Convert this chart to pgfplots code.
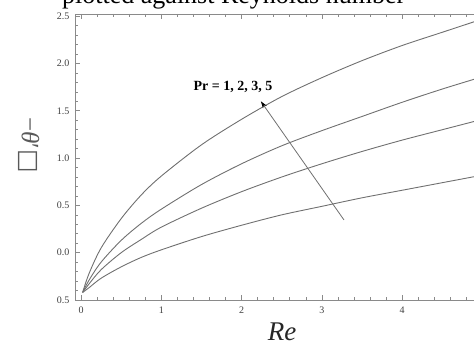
\documentclass[border=0pt]{standalone}
\usepackage{fontspec}
\setmainfont{Liberation Serif}
\newfontfamily\symfont{DejaVu Sans}
\usepackage{pgfplots}
\pgfplotsset{compat=1.18}
\usetikzlibrary{arrows.meta}

\definecolor{curve}{HTML}{707070}
\definecolor{frame}{HTML}{8A8A8A}

\begin{document}
\begin{tikzpicture}[x=1pt,y=1pt]
\begin{axis}[
  at={(75pt,44pt)}, anchor=south west,
  scale only axis, width=411.5pt, height=286pt,
  xmin=-0.075, xmax=5.05, ymin=-0.5, ymax=2.523,
  axis line style={draw=frame, line width=0.8pt},
  xtick={0,1,2,3,4,5}, xticklabels={0,1,2,3,4,{}},
  ytick={-0.5,0,0.5,1,1.5,2,2.5},
  yticklabels={0.5,0.0,0.5,1.0,1.5,2.0,2.5},
  minor x tick num=4, minor y tick num=4,
  major tick length=5pt, minor tick length=3pt,
  tick style={draw=frame, line width=0.6pt},
  tick align=inside,
  ticklabel style={font=\fontsize{10}{12}\selectfont, text=black!75},
  xticklabel style={yshift=-3pt},
  yticklabel style={xshift=-2pt},
]
% Pr = 5 (top)
\addplot[no marks, smooth, line width=0.9pt, draw=curve] coordinates {
  (0.02,-0.42) (0.1,-0.22) (0.25,0.05) (0.5,0.36) (0.75,0.61) (1,0.81)
  (1.5,1.14) (2,1.41) (2.5,1.65) (3,1.85) (3.5,2.03) (4,2.19) (4.5,2.33) (5,2.47)};
% Pr = 3
\addplot[no marks, smooth, line width=0.9pt, draw=curve] coordinates {
  (0.02,-0.42) (0.1,-0.29) (0.25,-0.10) (0.5,0.13) (0.75,0.31) (1,0.46)
  (1.5,0.72) (2,0.94) (2.5,1.13) (3,1.29) (3.5,1.44) (4,1.59) (4.5,1.73) (5,1.86)};
% Pr = 2
\addplot[no marks, smooth, line width=0.9pt, draw=curve] coordinates {
  (0.02,-0.42) (0.1,-0.33) (0.25,-0.18) (0.5,0.00) (0.75,0.14) (1,0.27)
  (1.5,0.47) (2,0.645) (2.5,0.80) (3,0.94) (3.5,1.07) (4,1.19) (4.5,1.30) (5,1.41)};
% Pr = 1
\addplot[no marks, smooth, line width=0.9pt, draw=curve] coordinates {
  (0.02,-0.42) (0.1,-0.37) (0.25,-0.27) (0.5,-0.15) (0.75,-0.05) (1,0.03)
  (1.5,0.17) (2,0.29) (2.5,0.40) (3,0.49) (3.5,0.58) (4,0.66) (4.5,0.74) (5,0.82)};

\draw[draw=curve, line width=0.8pt,
      -{Stealth[length=7pt,width=4.5pt,color=black]}]
  (axis cs:3.275,0.346) -- (axis cs:2.24,1.60);
\node[font=\bfseries\fontsize{14}{16}\selectfont, inner sep=0]
  at (axis cs:1.893,1.75) {Pr = 1, 2, 3, 5};
\end{axis}
\pgfresetboundingbox
\path[use as bounding box] (0,0) rectangle (474,344);
\node[anchor=base west, font=\fontsize{26}{30}\selectfont, inner sep=0]
  at (62,340) {plotted against Reynolds number};
\node[anchor=base, font=\itshape\fontsize{27}{30}\selectfont, inner sep=0,
      text=black!85] at (282,3) {Re};
\node[rotate=-90, font=\fontsize{25}{28}\selectfont, inner sep=0, text=black!65]
  at (29,199) {−\textit{θ}′{\symfont □}};
\end{tikzpicture}
\end{document}
